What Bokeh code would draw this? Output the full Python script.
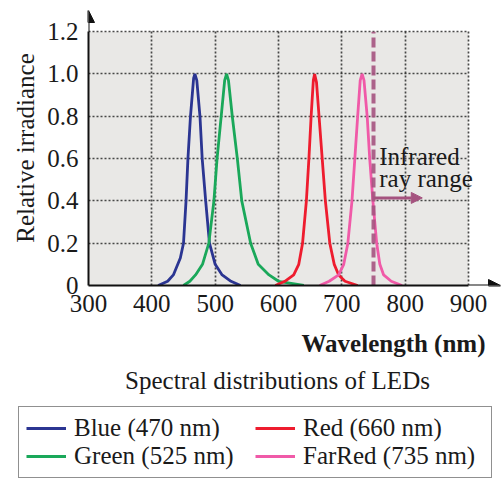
from bokeh.plotting import figure
from bokeh.layouts import column
from bokeh.models import (Range1d, FixedTicker, Grid, Label, Legend, LegendItem,
                          Arrow, NormalHead, PrintfTickFormatter)
from bokeh.embed import file_html
from bokeh.resources import INLINE

# ---------------- data ----------------
x_ticks = [300, 400, 500, 600, 700, 800, 900]
y_ticks = [0, 0.2, 0.4, 0.6, 0.8, 1.0, 1.2]

blue_wl = [410, 425, 434, 445, 450, 454, 457, 461, 466, 468, 471, 476, 479.5, 485, 491, 500, 511, 525, 540]
blue_val = [0, 0.02, 0.05, 0.13, 0.2, 0.4, 0.6, 0.8, 0.98, 1.0, 0.97, 0.8, 0.6, 0.4, 0.2, 0.1, 0.05, 0.02, 0]

green_wl = [450, 460, 469, 480, 490, 498, 503, 509.5, 515, 518, 521, 527, 535, 542, 556, 568, 585, 600, 620, 640]
green_val = [0, 0.02, 0.05, 0.1, 0.2, 0.4, 0.6, 0.8, 0.97, 1.0, 0.97, 0.8, 0.6, 0.4, 0.2, 0.1, 0.05, 0.02, 0.01, 0]

red_wl = [595, 610, 624, 632, 638, 644, 648, 651.5, 655, 657, 660, 664, 669, 674, 681, 688, 695, 705, 725]
red_val = [0, 0.02, 0.05, 0.1, 0.2, 0.4, 0.6, 0.8, 0.97, 1.0, 0.96, 0.8, 0.6, 0.4, 0.2, 0.1, 0.05, 0.02, 0]

farred_wl = [665, 680, 695, 703, 709.5, 716, 720.5, 725, 729, 732, 735, 740, 744, 749, 755, 760, 766, 778, 795]
farred_val = [0, 0.02, 0.05, 0.1, 0.2, 0.4, 0.6, 0.8, 0.97, 1.0, 0.97, 0.8, 0.6, 0.4, 0.2, 0.1, 0.05, 0.02, 0]

series_labels = ["Blue (470 nm)", "Green (525 nm)", "Red (660 nm)", "FarRed (735 nm)"]
series_colors = ["#2b3592", "#1aa85a", "#ee1c2e", "#f05aa8"]

ir_start = 750
ir_arrow_end = 827
ir_arrow_y = 0.414

x_title = "Wavelength (nm)"
y_title = "Relative irradiance"
caption = "Spectral distributions of LEDs"

FONT = "Liberation Serif"
FS = "25px"
TXT = "#1a1a1a"

x_end = 950.5
y_end = 1.3

series = list(zip([blue_wl, green_wl, red_wl, farred_wl],
                  [blue_val, green_val, red_val, farred_val], series_colors))

# ---------------- main chart ----------------
H1 = 325
p = figure(width=504, height=H1, output_backend="svg", toolbar_location=None,
           x_range=Range1d(x_ticks[0], x_end), y_range=Range1d(y_ticks[0], y_end),
           min_border_left=88, min_border_right=4, min_border_top=10, min_border_bottom=40)
p.frame_align = False
p.outline_line_color = None
p.grid.visible = False
p.background_fill_color = "white"
p.border_fill_color = "white"

# plot-area background
p.quad(left=[x_ticks[0]], right=[x_ticks[-1]], bottom=[y_ticks[0]], top=[y_ticks[-1]],
       fill_color="#e9e8e6", line_color=None, level="image")

# dotted grid limited to the plot box
grid_style = dict(grid_line_color="#2a2a2a", grid_line_dash="2 2", grid_line_width=1.7,
                  grid_line_alpha=0.85)
p.add_layout(Grid(dimension=0, ticker=FixedTicker(ticks=x_ticks),
                  cross_bounds=(y_ticks[0], y_ticks[-1]), **grid_style))
p.add_layout(Grid(dimension=1, ticker=FixedTicker(ticks=y_ticks),
                  cross_bounds=(x_ticks[0], x_ticks[-1]), **grid_style))

# curves
for xs, ys, c in series:
    p.line(xs, ys, line_color=c, line_width=2.8)

# infrared boundary
p.line([ir_start, ir_start], [y_ticks[0], y_ticks[-1]], line_color="#a5537f", line_width=4,
       line_dash="10 4", line_alpha=0.9)
p.add_layout(Arrow(x_start=ir_start, y_start=ir_arrow_y, x_end=ir_arrow_end, y_end=ir_arrow_y,
                   line_color="#a5537f", line_width=3,
                   end=NormalHead(size=11, fill_color="#a5537f", line_color="#a5537f")))
p.add_layout(Label(x=759, y=0.612, text="Infrared", text_font=FONT, text_font_size=FS,
                   text_color=TXT, text_baseline="alphabetic"))
p.add_layout(Label(x=759, y=0.508, text="ray range", text_font=FONT, text_font_size=FS,
                   text_color=TXT, text_baseline="alphabetic"))

# axes
for ax in (p.xaxis[0], p.yaxis[0]):
    ax.axis_line_width = 2
    ax.axis_line_color = "#111111"
    ax.major_tick_in = 0
    ax.major_tick_out = 0
    ax.minor_tick_in = 0
    ax.minor_tick_out = 0
    ax.major_label_text_font = FONT
    ax.major_label_text_font_size = FS
    ax.major_label_text_color = TXT

p.xaxis.ticker = FixedTicker(ticks=x_ticks)
p.xaxis.bounds = (x_ticks[0], x_ticks[-1])
p.xaxis.major_label_standoff = 9
p.yaxis.ticker = FixedTicker(ticks=y_ticks)
p.yaxis.bounds = (y_ticks[0], y_ticks[-1])
p.yaxis.formatter = PrintfTickFormatter(format="%.1f")
p.yaxis.major_label_overrides = {0: "0"}
p.yaxis.major_label_standoff = 10
p.yaxis.axis_label = y_title
p.yaxis.axis_label_text_font = FONT
p.yaxis.axis_label_text_font_size = FS
p.yaxis.axis_label_text_font_style = "normal"
p.yaxis.axis_label_text_color = TXT
p.yaxis.axis_label_standoff = 5

# axis arrows
p.add_layout(Arrow(x_start=x_ticks[0], y_start=y_ticks[-1], x_end=x_ticks[0], y_end=y_end,
                   line_color="#111111", line_width=2,
                   end=NormalHead(size=12, fill_color="#111111", line_color="#111111")))
p.add_layout(Arrow(x_start=x_ticks[-1], y_start=0, x_end=x_end, y_end=0,
                   line_color="#111111", line_width=2,
                   end=NormalHead(size=12, fill_color="#111111", line_color="#111111")))

# ---------------- lower panel: axis title, caption, legend ----------------
H2 = 480 - H1
b = figure(width=504, height=H2, output_backend="svg", toolbar_location=None,
           x_range=Range1d(0, 504), y_range=Range1d(0, H2),
           x_axis_location=None, y_axis_location=None, min_border=0)
b.frame_align = False
b.grid.visible = False
b.outline_line_color = None
b.background_fill_color = "white"
b.border_fill_color = "white"

b.add_layout(Label(x=485, y=H2 - 18, text=x_title, text_font=FONT, text_font_size=FS,
                   text_font_style="bold", text_color=TXT, text_align="right",
                   text_baseline="alphabetic"))
b.add_layout(Label(x=277, y=H2 - 55, text=caption, text_font=FONT, text_font_size=FS,
                   text_color=TXT, text_align="center", text_baseline="alphabetic"))

leg_rs = [b.line(xs, ys, line_color=c, line_width=3, visible=False) for xs, ys, c in series]
legend = Legend(items=[LegendItem(label=l, renderers=[r]) for l, r in zip(series_labels, leg_rs)],
                ncols=2, location=(18, 2), border_line_color="#222222", border_line_width=1.5,
                label_text_font=FONT, label_text_font_size=FS, label_text_color=TXT,
                glyph_width=40, label_standoff=8, label_width=181, spacing=0, padding=7,
                margin=0, inactive_fill_alpha=0.0,
                background_fill_color="white", background_fill_alpha=1.0)
b.add_layout(legend, "center")

layout = column(p, b, spacing=0)
open("out.html", "w").write(file_html(layout, INLINE))
